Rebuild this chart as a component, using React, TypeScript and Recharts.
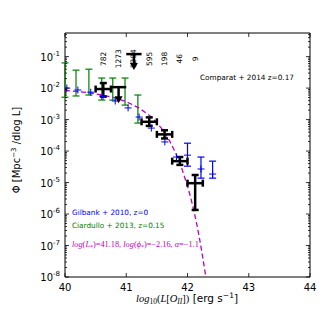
import React from "react";
import {
  ComposedChart,
  Line,
  Scatter,
  XAxis,
  YAxis,
  ErrorBar,
  ReferenceArea,
} from "recharts";

const W = 327;
const H = 327;
const PLOT = { left: 65, right: 310, top: 33, bottom: 277 };
const SANS = "DejaVu Sans, sans-serif";
const SERIF = "Liberation Serif, DejaVu Serif, serif";

// axes
const xTicks = [40, 41, 42, 43, 44];
const yMajorExp = [-8, -7, -6, -5, -4, -3, -2, -1];
const yTopExp = -0.25;

// Comparat + 2014 (log10 phi)
const comparatL = [40.625, 41.375, 41.625, 41.875, 42.125];
const comparatLogPhi = [-2.03, -3.07, -3.47, -4.32, -5.02];
const comparatLogLo = [-2.27, -3.2, -3.6, -4.44, -5.87];
const comparatLogHi = [-1.84, -2.93, -3.34, -4.19, -4.76];
const comparatHalfBin = 0.125;
// upper limits
const limitL = [40.875, 41.125];
const limitLogPhi = [-1.97, -0.92];
// galaxy counts per bin
const countL = [40.625, 40.875, 41.125, 41.375, 41.625, 41.875, 42.125];
const countLabels = ["782", "1273", "1204", "595", "198", "46", "9"];
const countLogY = -1.07;

// Gilbank + 2010
const gilbankL = [40.03, 40.21, 40.42, 40.62, 40.82, 41.03, 41.21, 41.41, 41.63, 41.82];
const gilbankLogPhi = [-2.0, -2.06, -2.13, -2.26, -2.41, -2.63, -2.92, -3.27, -3.71, -4.19];
const gilbankErrL = [42.0, 42.22, 42.41];
const gilbankErrLogPhi = [-4.13, -4.57, -4.73];
const gilbankErrLogLo = [-4.48, -4.86, -4.86];
const gilbankErrLogHi = [-3.75, -4.19, -4.32];

// Ciardullo + 2013
const ciardulloL = [40.0, 40.18, 40.39, 40.6, 40.78, 40.98, 41.19];
const ciardulloLogLo = [-2.29, -2.25, -2.22, -2.38, -2.38, -2.54, -3.11];
const ciardulloLogHi = [-1.2, -1.43, -1.4, -1.68, -1.68, -1.68, -2.22];

// Schechter fit
const fitL = [40.0, 40.2, 40.4, 40.6, 40.8, 41.0, 41.2, 41.4, 41.5, 41.6, 41.7, 41.8, 41.9, 42.0, 42.05, 42.1, 42.15, 42.2, 42.25, 42.3];
const fitLogPhi = [-2.07, -2.11, -2.15, -2.22, -2.3, -2.43, -2.62, -2.9, -3.1, -3.34, -3.65, -4.03, -4.51, -5.11, -5.46, -5.86, -6.31, -6.82, -7.39, -8.0];

const p10 = (v: number) => Math.pow(10, v);

const comparatRows = comparatL.map((x, i) => ({
  x,
  y: p10(comparatLogPhi[i]),
  yerr: [p10(comparatLogPhi[i]) - p10(comparatLogLo[i]), p10(comparatLogHi[i]) - p10(comparatLogPhi[i])],
  xerr: comparatHalfBin,
}));
const limitRows = limitL.map((x, i) => ({ x, y: p10(limitLogPhi[i]), xerr: comparatHalfBin }));
const countRows = countL.map((x, i) => ({ x, y: p10(countLogY), label: countLabels[i] }));
const gilbankRows = gilbankL.map((x, i) => ({ x, y: p10(gilbankLogPhi[i]) }));
const gilbankErrRows = gilbankErrL.map((x, i) => ({
  x,
  y: p10(gilbankErrLogPhi[i]),
  yerr: [p10(gilbankErrLogPhi[i]) - p10(gilbankErrLogLo[i]), p10(gilbankErrLogHi[i]) - p10(gilbankErrLogPhi[i])],
}));
const ciardulloRows = ciardulloL.map((x, i) => {
  const mid = (ciardulloLogLo[i] + ciardulloLogHi[i]) / 2;
  return {
    x,
    y: p10(mid),
    yerr: [p10(mid) - p10(ciardulloLogLo[i]), p10(ciardulloLogHi[i]) - p10(mid)],
  };
});
const fitRows = fitL.map((x, i) => ({ x, y: p10(fitLogPhi[i]) }));

// major + minor ticks on the log axis
const yTicks: number[] = [];
for (const e of [...yMajorExp, 0]) {
  for (let m = 1; m < 10; m++) {
    const t = m * p10(e);
    if (t >= p10(-8) * 0.999 && t <= p10(yTopExp)) yTicks.push(t);
  }
}

const YTick = (props: any) => {
  const { y, payload } = props;
  const lg = Math.log10(payload.value);
  const major = Math.abs(lg - Math.round(lg)) < 1e-6;
  const len = major ? 4 : 2;
  return (
    <g>
      <line x1={PLOT.left} x2={PLOT.left + len} y1={y} y2={y} stroke="#000" strokeWidth={0.8} />
      <line x1={PLOT.right} x2={PLOT.right - len} y1={y} y2={y} stroke="#000" strokeWidth={0.8} />
      {major && (
        <text x={60} y={y + 4} textAnchor="end" fontSize={10} fontFamily={SANS} fill="#000">
          10<tspan dy={-5} fontSize={7}>{Math.round(lg)}</tspan>
        </text>
      )}
    </g>
  );
};

const XTick = (props: any) => {
  const { x, payload } = props;
  return (
    <g>
      <line x1={x} x2={x} y1={PLOT.bottom} y2={PLOT.bottom - 4} stroke="#000" strokeWidth={0.8} />
      <line x1={x} x2={x} y1={PLOT.top} y2={PLOT.top + 4} stroke="#000" strokeWidth={0.8} />
      <text x={x} y={291} textAnchor="middle" fontSize={10} fontFamily={SANS} fill="#000">
        {payload.value}
      </text>
    </g>
  );
};

const Empty = () => <g />;

const Plus = (props: any) => {
  const { cx, cy } = props;
  return <path d={`M${cx - 3.5},${cy}h7M${cx},${cy - 3.5}v7`} stroke="#0000ff" strokeWidth={1} fill="none" />;
};

const Arrow = (props: any) => {
  const { cx, cy } = props;
  return (
    <g>
      <line x1={cx} x2={cx} y1={cy} y2={cy + 10} stroke="#000" strokeWidth={2.5} />
      <path d={`M${cx - 4},${cy + 9}L${cx + 4},${cy + 9}L${cx},${cy + 16}Z`} fill="#000" />
    </g>
  );
};

const CountLabel = (props: any) => {
  const { cx, cy, payload } = props;
  return (
    <text
      x={cx}
      y={cy}
      transform={`rotate(-90 ${cx} ${cy})`}
      textAnchor="middle"
      dominantBaseline="central"
      fontSize={7.5}
      fontFamily={SANS}
      fill="#000"
    >
      {payload.label}
    </text>
  );
};

export default function App() {
  return (
    <div style={{ position: "absolute", left: 0, top: 0, width: W, height: H, background: "#fff" }}>
      <ComposedChart
        width={W}
        height={H}
        margin={{ top: PLOT.top, right: W - PLOT.right, bottom: H - PLOT.bottom - 25, left: PLOT.left - 55 }}
      >
        <XAxis
          type="number"
          dataKey="x"
          domain={[40, 44]}
          ticks={xTicks}
          interval={0}
          allowDataOverflow
          tick={(p: any) => <XTick {...p} />}
          tickLine={false}
          axisLine={false}
          height={25}
        />
        <YAxis
          scale="log"
          domain={[p10(-8), p10(yTopExp)]}
          ticks={yTicks}
          interval={0}
          allowDataOverflow
          tick={(p: any) => <YTick {...p} />}
          tickLine={false}
          axisLine={false}
          width={55}
        />
        <ReferenceArea
          x1={40}
          x2={44}
          y1={p10(-8)}
          y2={p10(yTopExp)}
          fill="none"
          stroke="#000"
          strokeWidth={1}
          ifOverflow="visible"
        />
        <Scatter data={ciardulloRows} dataKey="y" shape={Empty} isAnimationActive={false}>
          <ErrorBar dataKey="yerr" direction="y" stroke="#008000" strokeWidth={1.2} width={3.5} />
        </Scatter>
        <Scatter data={gilbankRows} dataKey="y" shape={Plus} isAnimationActive={false} />
        <Scatter data={gilbankErrRows} dataKey="y" shape={Plus} isAnimationActive={false}>
          <ErrorBar dataKey="yerr" direction="y" stroke="#0000ff" strokeWidth={1.2} width={3.5} />
        </Scatter>
        <Line
          data={fitRows}
          dataKey="y"
          stroke="#bf00bf"
          strokeWidth={1.3}
          strokeDasharray="5 3"
          dot={false}
          isAnimationActive={false}
        />
        <Scatter data={countRows} dataKey="y" shape={CountLabel} isAnimationActive={false} />
        <Scatter data={comparatRows} dataKey="y" shape={Empty} isAnimationActive={false}>
          <ErrorBar dataKey="xerr" direction="x" stroke="#000" strokeWidth={2.5} width={3.5} />
          <ErrorBar dataKey="yerr" direction="y" stroke="#000" strokeWidth={2.5} width={3.5} />
        </Scatter>
        <Scatter data={limitRows} dataKey="y" shape={Arrow} isAnimationActive={false}>
          <ErrorBar dataKey="xerr" direction="x" stroke="#000" strokeWidth={2.5} width={0} />
        </Scatter>
      </ComposedChart>
      <svg
        width={W}
        height={H}
        style={{ position: "absolute", left: 0, top: 0, pointerEvents: "none" }}
      >
        <text x={200} y={80} fontSize={7.3} fontFamily={SANS} fill="#000">
          Comparat + 2014 z=0.17
        </text>
        <text x={72} y={215} fontSize={7.3} fontFamily={SANS} fill="#0000ff">
          Gilbank + 2010, z=0
        </text>
        <text x={72} y={228} fontSize={7.3} fontFamily={SANS} fill="#008000">
          Ciardullo + 2013, z=0.15
        </text>
        <text x={72} y={247} fontSize={8.3} fontFamily={SERIF} fill="#bf00bf">
          <tspan fontStyle="italic">log</tspan>(<tspan fontStyle="italic">L</tspan>
          <tspan dy={2} fontSize={6}>*</tspan>
          <tspan dy={-2}>)=41.18, </tspan>
          <tspan fontStyle="italic">log</tspan>(<tspan fontStyle="italic">ϕ</tspan>
          <tspan dy={2} fontSize={6}>*</tspan>
          <tspan dy={-2}>)=−2.16, </tspan>
          <tspan fontStyle="italic">α</tspan>=−1.1
        </text>
        <text
          x={20}
          y={150}
          transform="rotate(-90 20 150)"
          textAnchor="middle"
          fontSize={10}
          fontFamily={SANS}
          fill="#000"
        >
          Φ [Mpc<tspan dy={-4} fontSize={7}>−3</tspan>
          <tspan dy={4}> /dlog L]</tspan>
        </text>
        <text x={187} y={302} textAnchor="middle" fontSize={10.5} fontFamily={SANS} fill="#000">
          <tspan fontFamily={SERIF} fontStyle="italic">log</tspan>
          <tspan fontFamily={SERIF} fontSize={7.5} dy={2}>10</tspan>
          <tspan fontFamily={SERIF} dy={-2}>(</tspan>
          <tspan fontFamily={SERIF} fontStyle="italic">L</tspan>
          <tspan fontFamily={SERIF}>[</tspan>
          <tspan fontFamily={SERIF} fontStyle="italic">O</tspan>
          <tspan fontFamily={SERIF} fontStyle="italic" fontSize={7.5} dy={2}>II</tspan>
          <tspan fontFamily={SERIF} dy={-2}>])</tspan>
          <tspan> [erg s</tspan>
          <tspan dy={-4} fontSize={7.5}>−1</tspan>
          <tspan dy={4}>]</tspan>
        </text>
      </svg>
    </div>
  );
}
